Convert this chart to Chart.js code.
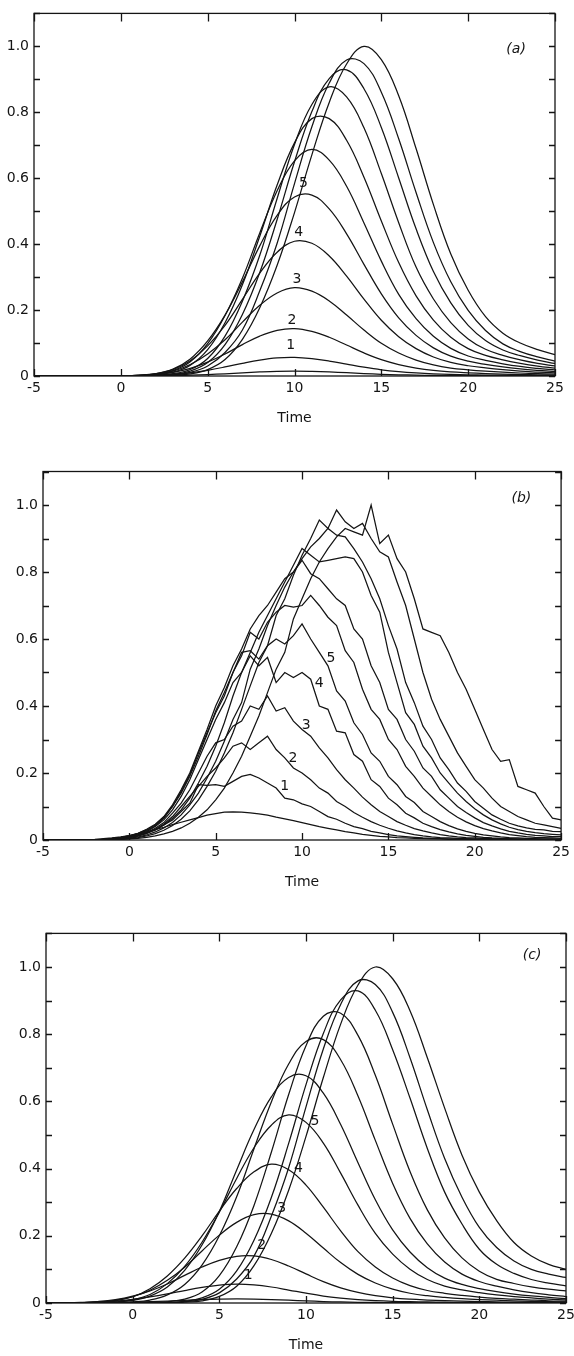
<!DOCTYPE html>
<html>
<head>
<meta charset="utf-8">
<script src="https://cdn.jsdelivr.net/npm/chart.js@4.4.1/dist/chart.umd.min.js"></script>
<style>
  html, body { margin: 0; padding: 0; background: #fff; }
  body { width: 574px; height: 1356px; position: relative; overflow: hidden; }
  canvas { position: absolute; left: 0; }
</style>
</head>
<body>
<canvas id="chartA" width="574" height="427" style="top:0"></canvas>
<canvas id="chartB" width="574" height="451" style="top:440px"></canvas>
<canvas id="chartC" width="590" height="454" style="top:900px"></canvas>
<script>
// time grids
const timeSmooth = [-5,-4,-3,-2,-1,0,1,2,3,4,5,6,7,8,9,10,11,12,13,14,15,16,17,18,19,20,21,22,23,24,25];
const timeNoisy = [-5,-4.5,-4,-3.5,-3,-2.5,-2,-1.5,-1,-0.5,0,0.5,1,1.5,2,2.5,3,3.5,4,4.5,5,5.5,6,6.5,7,7.5,8,8.5,9,9.5,
  10,10.5,11,11.5,12,12.5,13,13.5,14,14.5,15,15.5,16,16.5,17,17.5,18,18.5,19,19.5,20,20.5,21,21.5,22,22.5,23,23.5,24,24.5,25];

const xTicks = [-5, 0, 5, 10, 15, 20, 25];
const yTickLabels = ['0', '0.2', '0.4', '0.6', '0.8', '1.0'];

// panel (a)
const a0 = [0,0,0,0,0,0,0,0.0004,0.001,0.0023,0.0042,0.0068,0.0098,0.0124,0.0143,0.0149,0.014,0.0123,0.0099,0.0073,0.0052,0.0037,0.0026,0.0018,0.0013,0.001,0.0008,0.0006,0.0005,0.0004,0.0003];
const a1 = [0,0,0,0,0,0.0002,0.0006,0.0018,0.0046,0.0098,0.0174,0.0274,0.0386,0.0484,0.0548,0.0562,0.0525,0.0453,0.0359,0.0267,0.0189,0.0132,0.0092,0.0064,0.0047,0.0037,0.0029,0.0023,0.0018,0.0014,0.0011];
const a2 = [0,0,0,0,0,0.0004,0.0014,0.0042,0.0107,0.0232,0.042,0.0667,0.0953,0.1211,0.1385,0.1436,0.1352,0.1175,0.0939,0.07,0.0497,0.0348,0.0241,0.0168,0.0123,0.0096,0.0075,0.0059,0.0046,0.0037,0.0029];
const a3 = [0,0,0,0,0,0.0005,0.0016,0.0054,0.0147,0.0348,0.067,0.1099,0.1635,0.2144,0.2519,0.268,0.2573,0.2278,0.1849,0.1394,0.0992,0.0697,0.0482,0.0335,0.0241,0.0188,0.0147,0.0115,0.0091,0.0072,0.0056];
const a4 = [0,0,0,0,0,0.0006,0.0021,0.0068,0.0191,0.0461,0.0913,0.1536,0.2324,0.3123,0.3756,0.4088,0.4026,0.3642,0.303,0.2334,0.1691,0.1193,0.083,0.0577,0.0411,0.0311,0.0245,0.0191,0.0149,0.012,0.0093];
const a5 = [0,0,0,0,0,0.0006,0.0022,0.0073,0.021,0.0518,0.1064,0.1848,0.2856,0.3948,0.4872,0.5432,0.5488,0.5068,0.4312,0.3388,0.2492,0.1764,0.1232,0.0854,0.0602,0.0448,0.035,0.0274,0.0216,0.0171,0.0134];
const a6 = [0,0,0,0,0,0.0003,0.0017,0.0051,0.0162,0.0431,0.098,0.1835,0.2967,0.434,0.5617,0.6527,0.6872,0.6548,0.5755,0.4644,0.3485,0.2477,0.1739,0.1204,0.0838,0.0607,0.0473,0.0371,0.029,0.023,0.0182];
const a7 = [0,0,0,0,0,0.0002,0.001,0.0035,0.0115,0.0328,0.08,0.1616,0.2768,0.424,0.5792,0.7072,0.7808,0.7808,0.7152,0.6032,0.4704,0.344,0.2432,0.1696,0.1176,0.0832,0.0624,0.0488,0.0384,0.0301,0.0238];
const a8 = [0,0,0,0,0,0,0.0005,0.0023,0.0069,0.0197,0.0532,0.121,0.227,0.3661,0.5386,0.7022,0.8237,0.8774,0.8466,0.7528,0.6142,0.4651,0.3304,0.2336,0.162,0.1126,0.081,0.0625,0.0491,0.0384,0.0304];
const a9 = [0,0,0,0,0,0,0,0.0016,0.0047,0.015,0.0407,0.0953,0.1866,0.3138,0.4749,0.65,0.8021,0.9024,0.9287,0.8714,0.7539,0.6007,0.4465,0.3168,0.2218,0.1537,0.1076,0.079,0.0616,0.0483,0.0379];
const a10 = [0,0,0,0,0,0,0,0.001,0.0038,0.0111,0.0302,0.0713,0.1394,0.2583,0.4027,0.5838,0.7559,0.8886,0.9587,0.9477,0.8609,0.7196,0.5567,0.4046,0.2857,0.1989,0.138,0.0975,0.0741,0.058,0.0454];
const a11 = [0,0,0,0,0,0,0,0.0006,0.0027,0.0065,0.0195,0.05,0.1113,0.2071,0.3358,0.4958,0.671,0.83,0.9464,1.0,0.96,0.85,0.69,0.52,0.37,0.26,0.18,0.13,0.1,0.08,0.065];

// panel (b)
const b0 = [0,0,0,0,0,0.001,0.002,0.004,0.006,0.009, 0.013,0.018,0.024,0.031,0.038,0.046,0.053,0.06,0.067,0.074,
  0.079,0.083,0.084,0.083,0.081,0.078,0.074,0.068,0.063,0.058, 0.052,0.046,0.04,0.035,0.03,0.025,0.021,0.017,0.014,0.011,
  0.009,0.007,0.006,0.005,0.004,0.003,0.003,0.002,0.002,0.002, 0.002,0.002,0.001,0.001,0.001,0.001,0.001,0.001,0.001,0.001, 0.001];
const b1 = [0,0,0,0,0,0,0,0.002,0.004,0.007, 0.01,0.014,0.022,0.03,0.045,0.06,0.085,0.11,0.165,0.163,
  0.165,0.16,0.175,0.19,0.196,0.185,0.17,0.155,0.125,0.12, 0.108,0.1,0.085,0.07,0.062,0.05,0.04,0.034,0.026,0.021,
  0.016,0.012,0.01,0.008,0.006,0.005,0.004,0.003,0.003,0.002, 0.002,0.002,0.002,0.002,0.001,0.001,0.001,0.001,0.001,0.001, 0.001];
const b2 = [0,0,0,0,0,0,0,0,0.002,0.004, 0.007,0.012,0.02,0.032,0.048,0.07,0.1,0.13,0.16,0.19,
  0.215,0.245,0.28,0.29,0.27,0.29,0.31,0.27,0.245,0.215, 0.2,0.18,0.155,0.14,0.115,0.1,0.082,0.068,0.055,0.044,
  0.035,0.027,0.021,0.016,0.012,0.009,0.007,0.006,0.005,0.004, 0.003,0.003,0.002,0.002,0.002,0.002,0.001,0.001,0.001,0.001, 0.001];
const b3 = [0,0,0,0,0,0,0,0,0.003,0.005, 0.009,0.014,0.022,0.035,0.052,0.08,0.11,0.15,0.2,0.25,
  0.29,0.3,0.34,0.355,0.4,0.39,0.43,0.385,0.395,0.355, 0.33,0.31,0.275,0.245,0.21,0.18,0.155,0.128,0.105,0.085,
  0.07,0.055,0.044,0.034,0.027,0.021,0.016,0.012,0.009,0.007, 0.006,0.005,0.004,0.003,0.003,0.002,0.002,0.002,0.002,0.002, 0.002];
const b4 = [0,0,0,0,0,0,0,0,0.003,0.006, 0.01,0.016,0.025,0.04,0.06,0.09,0.13,0.18,0.24,0.3,
  0.36,0.41,0.47,0.5,0.55,0.52,0.545,0.47,0.5,0.485, 0.5,0.48,0.4,0.39,0.325,0.32,0.255,0.235,0.18,0.16,
  0.125,0.105,0.08,0.066,0.05,0.04,0.031,0.024,0.018,0.014, 0.011,0.008,0.006,0.005,0.004,0.003,0.003,0.002,0.002,0.002, 0.002];
const b5 = [0,0,0,0,0,0,0,0,0.003,0.006, 0.011,0.018,0.028,0.042,0.065,0.1,0.14,0.19,0.25,0.315,
  0.385,0.44,0.5,0.56,0.565,0.54,0.58,0.6,0.585,0.61, 0.645,0.6,0.56,0.52,0.445,0.415,0.35,0.315,0.26,0.235,
  0.19,0.165,0.13,0.112,0.085,0.07,0.055,0.043,0.033,0.026, 0.02,0.015,0.012,0.009,0.007,0.006,0.005,0.004,0.003,0.003, 0.002];
const b6 = [0,0,0,0,0,0,0,0,0.004,0.007, 0.012,0.02,0.03,0.045,0.068,0.1,0.145,0.195,0.26,0.32,
  0.38,0.43,0.5,0.55,0.62,0.6,0.65,0.68,0.7,0.695, 0.7,0.73,0.7,0.665,0.64,0.565,0.53,0.45,0.39,0.36,
  0.3,0.27,0.22,0.19,0.155,0.13,0.105,0.085,0.068,0.054, 0.043,0.034,0.027,0.021,0.016,0.013,0.01,0.008,0.007,0.006, 0.005];
const b7 = [0,0,0,0,0,0,0,0,0.005,0.008, 0.013,0.02,0.032,0.047,0.07,0.105,0.15,0.2,0.265,0.33,
  0.4,0.455,0.52,0.57,0.63,0.67,0.7,0.74,0.78,0.8, 0.835,0.795,0.78,0.75,0.72,0.7,0.63,0.6,0.52,0.47,
  0.39,0.36,0.3,0.265,0.215,0.19,0.15,0.125,0.1,0.082, 0.066,0.052,0.042,0.033,0.026,0.021,0.017,0.014,0.012,0.01, 0.01];
const b8 = [0,0,0,0,0,0,0,0,0.002,0.004, 0.007,0.012,0.02,0.03,0.045,0.065,0.09,0.125,0.17,0.22,
  0.28,0.35,0.43,0.5,0.56,0.62,0.67,0.72,0.77,0.82, 0.87,0.85,0.83,0.835,0.84,0.845,0.84,0.8,0.73,0.68,
  0.56,0.47,0.38,0.345,0.28,0.245,0.2,0.17,0.14,0.115, 0.093,0.075,0.06,0.048,0.038,0.031,0.026,0.022,0.019,0.017, 0.015];
const b9 = [0,0,0,0,0,0,0,0,0.002,0.003, 0.005,0.009,0.015,0.024,0.036,0.052,0.075,0.105,0.14,0.185,
  0.235,0.295,0.36,0.41,0.51,0.57,0.64,0.7,0.755,0.8, 0.84,0.875,0.9,0.93,0.91,0.905,0.87,0.83,0.78,0.72,
  0.64,0.57,0.47,0.41,0.34,0.3,0.245,0.21,0.17,0.145, 0.115,0.095,0.075,0.062,0.05,0.042,0.036,0.032,0.03,0.026, 0.025];
const b10 = [0,0,0,0,0,0,0,0,0.001,0.002, 0.004,0.007,0.012,0.019,0.029,0.043,0.062,0.087,0.12,0.16,
  0.205,0.26,0.32,0.39,0.46,0.53,0.58,0.67,0.72,0.79, 0.85,0.9,0.955,0.93,0.985,0.95,0.93,0.945,0.9,0.86,
  0.845,0.77,0.7,0.6,0.5,0.42,0.36,0.31,0.26,0.22, 0.18,0.155,0.125,0.1,0.085,0.07,0.06,0.05,0.045,0.04, 0.035];
const b11 = [0,0,0,0,0,0,0,0,0.001,0.002, 0.003,0.005,0.008,0.012,0.018,0.026,0.036,0.05,0.068,0.09,
  0.12,0.155,0.2,0.25,0.31,0.37,0.44,0.51,0.56,0.66, 0.72,0.78,0.83,0.87,0.905,0.93,0.92,0.91,1.0,0.885,
  0.91,0.84,0.8,0.72,0.63,0.62,0.61,0.56,0.5,0.45, 0.39,0.33,0.27,0.235,0.24,0.16,0.15,0.14,0.1,0.065, 0.06];

// panel (c)
const c0 = [0,0.0001,0.0002,0.0005,0.0012,0.0023,0.0039,0.0058,0.0079,0.0099,0.0113,0.012,0.0115,0.0102,0.0083,0.0062,0.0044,0.0031,0.0022,0.0015,0.0011,0.0008,0.0007,0.0005,0.0004,0.0003,0.0003,0.0002,0.0002,0.0002,0.0001];
const c1 = [0.0001,0.0003,0.001,0.0025,0.0058,0.0109,0.0181,0.027,0.0371,0.0462,0.0529,0.056,0.0538,0.0476,0.0386,0.0291,0.0207,0.0146,0.0101,0.007,0.005,0.0039,0.0031,0.0024,0.0019,0.0015,0.0012,0.0009,0.0007,0.0006,0.0004];
const c2 = [0.0001,0.0005,0.0016,0.0043,0.0099,0.0202,0.0358,0.0565,0.0821,0.107,0.1271,0.1391,0.1401,0.1294,0.1101,0.0865,0.0636,0.045,0.0315,0.0218,0.0154,0.0114,0.0089,0.007,0.0055,0.0044,0.0034,0.0026,0.0021,0.0016,0.0013];
const c3 = [0.0001,0.0003,0.001,0.003,0.0081,0.0186,0.0381,0.0675,0.1067,0.155,0.202,0.24,0.2627,0.2646,0.2444,0.2079,0.1634,0.1202,0.0851,0.0594,0.0412,0.029,0.0216,0.0169,0.0132,0.0104,0.0082,0.0065,0.005,0.0039,0.0031];
const c4 = [0,0.0002,0.0008,0.0023,0.0072,0.0186,0.0425,0.0805,0.1334,0.1995,0.2734,0.3407,0.3903,0.413,0.3965,0.351,0.285,0.2148,0.1528,0.1074,0.0743,0.0516,0.0372,0.0289,0.0227,0.0178,0.014,0.0112,0.0087,0.0066,0.0054];
const c5 = [0,0,0.0003,0.0011,0.0031,0.0098,0.0252,0.0577,0.1092,0.1809,0.2705,0.3707,0.462,0.5292,0.56,0.5376,0.476,0.3864,0.2912,0.2072,0.1456,0.1008,0.07,0.0504,0.0392,0.0308,0.0241,0.019,0.0151,0.0118,0.009];
const c6 = [0,0,0.0002,0.0007,0.0026,0.0076,0.0207,0.0476,0.0973,0.1725,0.2726,0.3961,0.5161,0.6134,0.6714,0.6762,0.6245,0.5313,0.4175,0.3071,0.2174,0.1518,0.1052,0.0742,0.0552,0.0431,0.0338,0.0266,0.021,0.0166,0.0128];
const c7 = [0,0,0,0.0002,0.0008,0.003,0.0088,0.024,0.0552,0.1128,0.2,0.316,0.4592,0.5984,0.7112,0.7784,0.784,0.724,0.616,0.484,0.356,0.252,0.176,0.122,0.086,0.064,0.05,0.0392,0.0308,0.0244,0.0192];
const c8 = [0,0,0,0,0,0,0.0009,0.0035,0.0114,0.033,0.0814,0.1672,0.2904,0.4488,0.6204,0.7656,0.8536,0.8624,0.7964,0.6776,0.5324,0.3916,0.2772,0.1936,0.1342,0.0946,0.0704,0.058,0.048,0.041,0.036];
const c9 = [0,0,0,0,0,0,0,0.0016,0.0047,0.015,0.0407,0.0953,0.1866,0.3138,0.4749,0.65,0.8021,0.9024,0.9287,0.8714,0.7539,0.61,0.46,0.33,0.235,0.16,0.115,0.088,0.07,0.059,0.051];
const c10 = [0,0,0,0,0,0,0,0.001,0.0038,0.0111,0.0302,0.0713,0.1394,0.2583,0.4027,0.5838,0.7559,0.8886,0.9587,0.9477,0.865,0.73,0.575,0.43,0.315,0.225,0.165,0.125,0.1,0.086,0.076];
const c11 = [0,0,0,0,0,0,0,0.0006,0.0027,0.0065,0.0195,0.05,0.1113,0.2071,0.3358,0.4958,0.671,0.83,0.9464,1.0,0.965,0.87,0.73,0.58,0.44,0.33,0.245,0.18,0.14,0.115,0.1];

// curve numbers written next to the curves: [text, time, value]
const labelsA = [['1', 9.78, 0.092], ['2', 9.86, 0.169], ['3', 10.14, 0.294], ['4', 10.24, 0.437], ['5', 10.52, 0.583]];
const labelsB = [['1', 8.99, 0.159], ['2', 9.47, 0.244], ['3', 10.24, 0.343], ['4', 11.0, 0.468], ['5', 11.68, 0.542]];
const labelsC = [['1', 6.67, 0.083], ['2', 7.44, 0.173], ['3', 8.6, 0.282], ['4', 9.56, 0.40], ['5', 10.52, 0.54]];

const INK = '#141414';
const FONT = 'DejaVu Sans';

// box round the plot, inward ticks, curve numbers and panel tag
const marks = {
  id: 'marks',
  afterDatasetsDraw(chart, args, opts) {
    const { ctx, chartArea: a, scales: { x, y } } = chart;
    ctx.save();
    ctx.strokeStyle = INK;
    ctx.lineWidth = 1.3;
    ctx.strokeRect(a.left, a.top, a.right - a.left, a.bottom - a.top);
    ctx.beginPath();
    x.ticks.forEach(t => {
      const px = Math.round(x.getPixelForValue(t.value)) + 0.5;
      ctx.moveTo(px, a.bottom); ctx.lineTo(px, a.bottom - 7);
      ctx.moveTo(px, a.top); ctx.lineTo(px, a.top + 8);
    });
    y.ticks.forEach(t => {
      const py = Math.round(y.getPixelForValue(t.value)) + 0.5;
      ctx.moveTo(a.left, py); ctx.lineTo(a.left + 6, py);
      ctx.moveTo(a.right, py); ctx.lineTo(a.right - 6, py);
    });
    ctx.stroke();
    ctx.fillStyle = INK;
    ctx.textAlign = 'center';
    ctx.textBaseline = 'middle';
    ctx.font = '14px "' + FONT + '"';
    opts.labels.forEach(([txt, t, v]) => ctx.fillText(txt, x.getPixelForValue(t), y.getPixelForValue(v)));
    ctx.font = 'italic 14px "' + FONT + '"';
    ctx.fillText(opts.tag[0], x.getPixelForValue(opts.tag[1]), y.getPixelForValue(opts.tag[2]));
    ctx.restore();
  }
};

function drawPanel(id, times, rows, cfg) {
  return new Chart(document.getElementById(id), {
    type: 'line',
    data: {
      datasets: rows.map(r => ({
        data: times.map((t, i) => ({ x: t, y: r[i] })),
        borderColor: INK,
        borderWidth: 1.25,
        pointRadius: 0,
        fill: false,
        tension: cfg.tension
      }))
    },
    options: {
      responsive: false,
      animation: false,
      events: [],
      layout: { padding: cfg.pad },
      plugins: {
        legend: { display: false },
        tooltip: { enabled: false },
        marks: { labels: cfg.labels, tag: cfg.tag }
      },
      scales: {
        x: {
          type: 'linear',
          min: xTicks[0],
          max: xTicks[xTicks.length - 1],
          afterBuildTicks: s => { s.ticks = xTicks.map(v => ({ value: v })); },
          ticks: { padding: 4, color: INK, maxRotation: 0, font: { family: FONT, size: 14 }, callback: v => String(v) },
          grid: { display: false, drawTicks: false },
          border: { display: false },
          title: { display: true, text: 'Time', color: INK, padding: 0, font: { family: FONT, size: 14 } },
          afterFit: s => { s.height = 51; }
        },
        y: {
          min: 0,
          max: 1.1,
          ticks: {
            stepSize: 0.1,
            padding: 5,
            autoSkip: false,
            color: INK,
            font: { family: FONT, size: 14 },
            callback: v => {
              const k = Math.round(v * 10);
              return k % 2 === 0 && k / 2 < yTickLabels.length ? yTickLabels[k / 2] : '';
            }
          },
          grid: { display: false, drawTicks: false },
          border: { display: false },
          afterFit: s => { s.width = cfg.yWidth; }
        }
      }
    },
    plugins: [marks]
  });
}

drawPanel('chartA', timeSmooth, [a0, a1, a2, a3, a4, a5, a6, a7, a8, a9, a10, a11], {
  tension: 0.4, yWidth: 34, pad: { top: 6.4, right: 19, bottom: 0, left: 0 },
  labels: labelsA, tag: ['(a)', 22.76, 0.99]
});
drawPanel('chartB', timeNoisy, [b0, b1, b2, b3, b4, b5, b6, b7, b8, b9, b10, b11], {
  tension: 0, yWidth: 43, pad: { top: 31.5, right: 11.4, bottom: 0, left: 0 },
  labels: labelsB, tag: ['(b)', 22.7, 1.02]
});
drawPanel('chartC', timeSmooth, [c0, c1, c2, c3, c4, c5, c6, c7, c8, c9, c10, c11], {
  tension: 0.4, yWidth: 46, pad: { top: 33.4, right: 24, bottom: 0, left: 0 },
  labels: labelsC, tag: ['(c)', 23.04, 1.036]
});
</script>
</body>
</html>
